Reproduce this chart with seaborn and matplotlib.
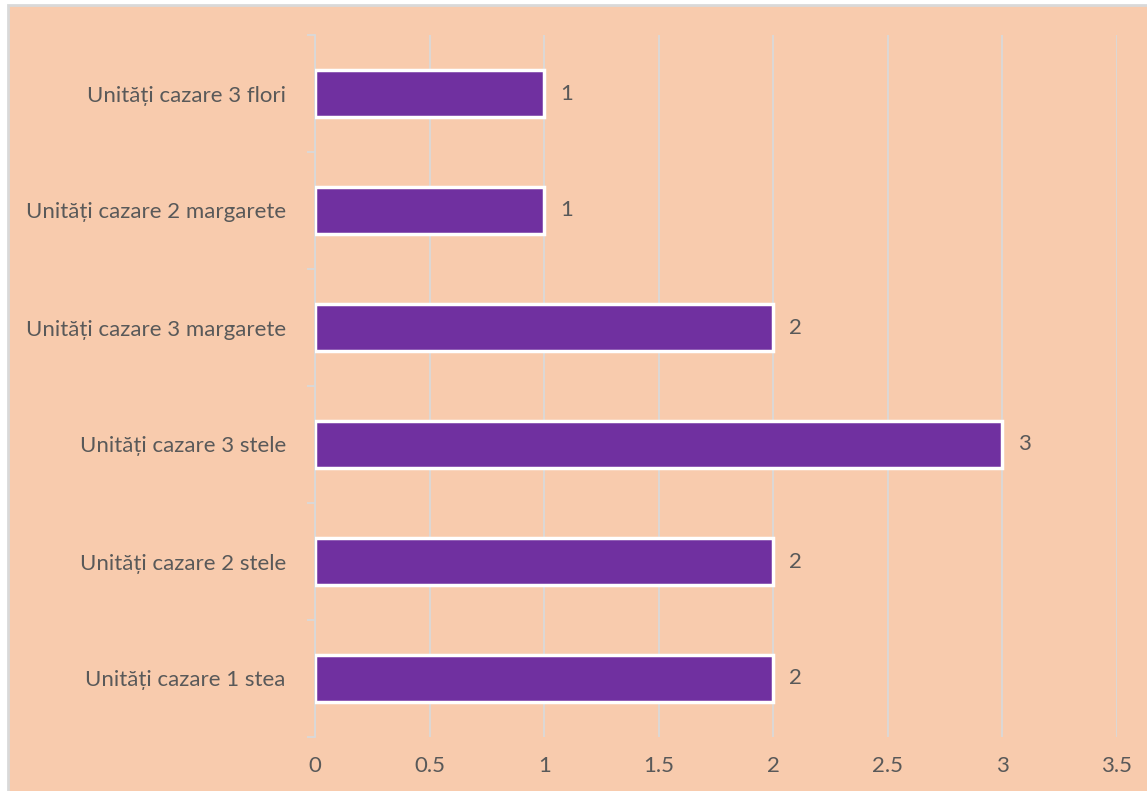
import seaborn as sns
import pandas as pd
import matplotlib.pyplot as plt
from matplotlib.patches import Rectangle

categories = [
    "Unități cazare 3 flori",
    "Unități cazare 2 margarete",
    "Unități cazare 3 margarete",
    "Unități cazare 3 stele",
    "Unități cazare 2 stele",
    "Unități cazare 1 stea",
]
counts = [1, 1, 2, 3, 2, 2]
x_ticks = [0, 0.5, 1, 1.5, 2, 2.5, 3, 3.5]
x_tick_labels = ["0", "0.5", "1", "1.5", "2", "2.5", "3", "3.5"]

peach = "#F8CBAD"
purple = "#7030A0"
grid = "#D9D9D9"
text_col = "#595959"
fs = 16

sns.set_theme(style="white")
plt.rcParams["font.family"] = ["Lato", "DejaVu Sans"]

df = pd.DataFrame({"Categorie": categories, "Numar": counts})

fig = plt.figure(figsize=(11.47, 7.91), dpi=100, facecolor="white")
fig.patches.append(Rectangle((8 / 1147, -0.01), 1.0, 1 - 5 / 791 + 0.01,
                             transform=fig.transFigure, facecolor=peach,
                             edgecolor=grid, linewidth=2, zorder=-10))
ax = fig.add_axes([315 / 1147, 1 - 737 / 791, (1117 - 315) / 1147, (737 - 35) / 791])
ax.set_facecolor("none")

sns.barplot(data=df, x="Numar", y="Categorie", orient="h", color=purple,
            saturation=1, width=0.4, edgecolor="white", linewidth=2.5,
            ax=ax, zorder=3)

ax.set_xlim(0, 3.5)
ax.set_ylim(5.5, -0.5)
ax.set_xticks(x_ticks)
ax.set_xticklabels(x_tick_labels)
ax.xaxis.grid(True, color=grid, linewidth=1.3)
ax.set_axisbelow(True)
for s in ["top", "right", "bottom"]:
    ax.spines[s].set_visible(False)
ax.spines["left"].set_color(grid)
ax.spines["left"].set_linewidth(1.3)
ax.set_xlabel("")
ax.set_ylabel("")

# category labels without ticks, minor ticks at boundaries (Excel style)
ax.tick_params(axis="y", which="major", length=0, pad=21, labelsize=fs, labelcolor=text_col)
ax.set_yticks([i + 0.5 for i in range(-1, 6)], minor=True)
ax.tick_params(axis="y", which="minor", length=6, width=1.3, color=grid, left=True)
ax.tick_params(axis="x", length=0, pad=14, labelsize=fs, labelcolor=text_col)

for i, v in enumerate(counts):
    ax.text(v + 0.07, i, str(v), va="center", ha="left", fontsize=fs, color=text_col)

fig.savefig("out.png", dpi=100, facecolor="white")
